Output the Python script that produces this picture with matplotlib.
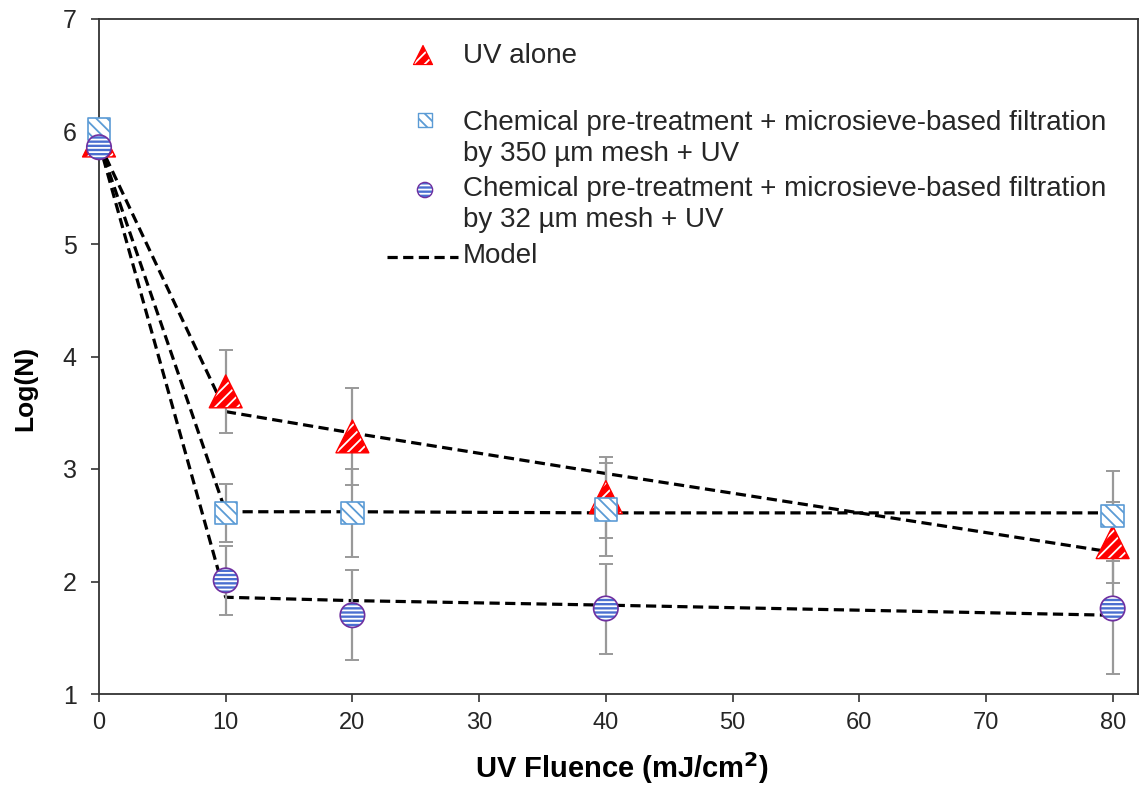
import matplotlib
matplotlib.use("Agg")
import matplotlib.pyplot as plt
from matplotlib import font_manager

# ---- data -------------------------------------------------------------
fluence = [0, 10, 20, 40, 80]
x_ticks = [0, 10, 20, 30, 40, 50, 60, 70, 80]
y_ticks = [1, 2, 3, 4, 5, 6, 7]

uv_alone = [5.92, 3.69, 3.29, 2.75, 2.35]
uv_alone_err = [0.0, 0.37, 0.43, 0.36, 0.36]

mesh350 = [6.02, 2.61, 2.61, 2.64, 2.58]
mesh350_err = [0.0, 0.26, 0.39, 0.41, 0.40]

mesh32 = [5.86, 2.01, 1.70, 1.76, 1.76]
mesh32_err = [0.0, 0.31, 0.40, 0.40, 0.58]

model_uv = [5.90, 3.51, 3.32, 2.96, 2.26]
model_350 = [5.90, 2.62, 2.62, 2.61, 2.61]
model_32 = [5.90, 1.86, 1.83, 1.79, 1.70]

labels = [
    "UV alone",
    "Chemical pre-treatment + microsieve-based filtration\nby 350 \u00b5m mesh + UV",
    "Chemical pre-treatment + microsieve-based filtration\nby 32 \u00b5m mesh + UV",
    "Model",
]

# ---- fonts ------------------------------------------------------------
names = {f.name for f in font_manager.fontManager.ttflist}
REG = "Liberation Sans" if "Liberation Sans" in names else "DejaVu Sans"

plt.rcParams["font.family"] = REG
plt.rcParams["hatch.linewidth"] = 1.3

W, H = 1141, 785
fig = plt.figure(figsize=(W / 100, H / 100), dpi=100)
L, R, T, B = 99, 1138, 19, 694
ax = fig.add_axes([L / W, 1 - B / H, (R - L) / W, (B - T) / H])


def ax_frac(px, py):
    return (px - L) / (R - L), (B - py) / (B - T)


# ---- colours / styles -------------------------------------------------
RED = "#FF0000"
SQ_EDGE = "#5B9BD5"
SQ_HATCH = "#5B9BD5"
CI_FILL = "#4A6FD0"
CI_EDGE = "#7030A0"
ERR = "#999999"
dash = (0, (3.2, 1.7))

# model curves
for m in (model_uv, model_350, model_32):
    ax.plot(fluence, m, color="black", lw=2.3, linestyle=dash, zorder=2)

# error bars
for vals, err in ((uv_alone, uv_alone_err), (mesh350, mesh350_err), (mesh32, mesh32_err)):
    ax.errorbar(fluence[1:], vals[1:], yerr=err[1:], fmt="none", ecolor=ERR,
                elinewidth=1.6, capsize=5, capthick=1.4, zorder=3)


def hatched(x, y, marker, s, face, hatch_col, hatch, edge, lw, z, **kw):
    kw.setdefault("clip_on", False)
    ax.scatter(x, y, marker=marker, s=s, facecolors=face, edgecolors=hatch_col,
               hatch=hatch, linewidths=0, zorder=z, **kw)
    ax.scatter(x, y, marker=marker, s=s, facecolors="none", edgecolors=edge,
               linewidths=lw, zorder=z + 0.01, **kw)


hatched(fluence, uv_alone, "^", 560, RED, "white", "///", RED, 1.0, 4)
hatched(fluence, mesh350, "s", 260, "white", SQ_HATCH, "\\\\\\", SQ_EDGE, 1.2, 5)
hatched(fluence, mesh32, "o", 310, CI_FILL, "white", "----", CI_EDGE, 1.2, 6)

# ---- legend -----------------------------------------------------------
leg_kw = dict(transform=ax.transAxes)
hatched(*[[v] for v in ax_frac(423, 55)], "^", 190, RED, "white", "///", RED, 0.8, 10, **leg_kw)
hatched(*[[v] for v in ax_frac(425, 120)], "s", 110, "white", SQ_HATCH, "\\\\\\", SQ_EDGE, 1.0, 10, **leg_kw)
hatched(*[[v] for v in ax_frac(425, 190)], "o", 120, CI_FILL, "white", "----", CI_EDGE, 1.0, 10, **leg_kw)
lx0, ly = ax_frac(387, 257)
lx1, _ = ax_frac(458, 257)
ax.plot([lx0, lx1], [ly, ly], color="black", lw=2.3, linestyle=dash,
        transform=ax.transAxes, clip_on=False, zorder=10)

fs_leg = 20
tx = 463 / W
first_baselines = [63, 130, 196, 263]
for lab, base in zip(labels, first_baselines):
    for i, line in enumerate(lab.split("\n")):
        fig.text(tx, 1 - (base + 31 * i) / H, line, fontsize=fs_leg,
                 color="#262626", va="baseline", ha="left")

# ---- axes -------------------------------------------------------------
ax.set_xlim(0, 82)
ax.set_ylim(1, 7)
ax.set_xticks(x_ticks)
ax.set_yticks(y_ticks)
ax.set_xticklabels([str(v) for v in x_ticks], fontsize=17, color="#262626")
ax.set_yticklabels([str(v) for v in y_ticks], fontsize=18, color="#262626")
ax.tick_params(axis="both", direction="out", length=6, width=1.2, color="#333333")
ax.tick_params(axis="y", pad=10)
ax.tick_params(axis="x", pad=7)
for sp in ax.spines.values():
    sp.set_color("#333333")
    sp.set_linewidth(1.3)

fig.text(622 / W, 1 - 768 / H, "UV Fluence (mJ/cm$^\\mathbf{2}$)", fontsize=21,
         fontweight="bold", ha="center", va="center", color="black")
fig.text(25 / W, 1 - 388 / H, "Log(N)", fontsize=19, fontweight="bold",
         rotation=90, ha="center", va="center", color="black")

fig.savefig("out.png", dpi=100, facecolor="white")
